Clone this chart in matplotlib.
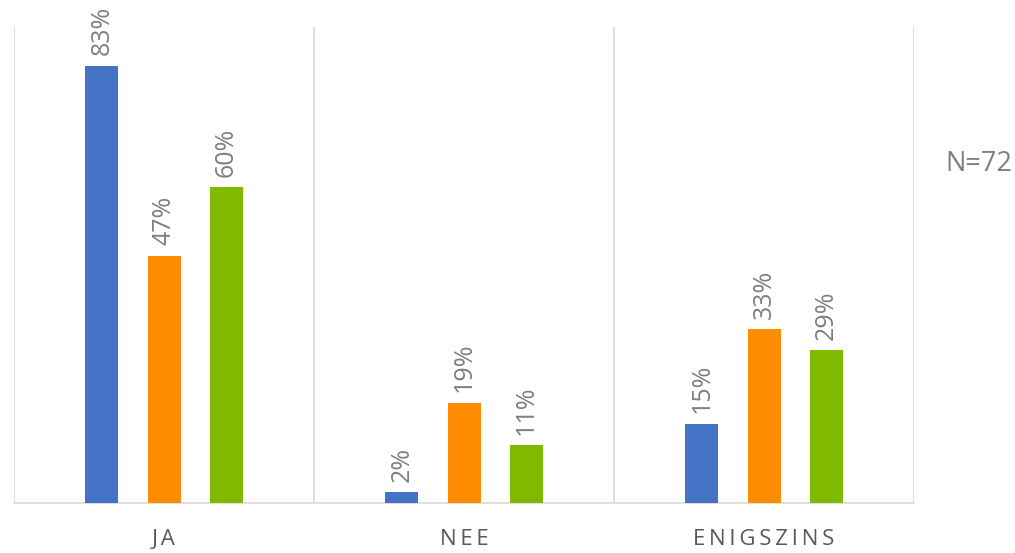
import numpy as np
import matplotlib
matplotlib.use("Agg")
import matplotlib.pyplot as plt

# categories and series values (percent)
categories = ["JA", "NEE", "ENIGSZINS"]
series_a = [83, 2, 15]
series_b = [47, 19, 33]
series_c = [60, 11, 29]
colors = ["#4472C4", "#FF8C00", "#7FBA00"]

plt.rcParams["font.family"] = ["Open Sans", "DejaVu Sans"]

fig = plt.figure(figsize=(10.15, 5.53), dpi=100)
ax = fig.add_axes([14 / 1015, 50 / 553, 900 / 1015, 476 / 553])

x = np.arange(len(categories))
width = 0.11
offset = 0.207
for i, (vals, col) in enumerate(zip([series_a, series_b, series_c], colors)):
    pos = x + (i - 1) * offset
    ax.bar(pos, vals, width=width, color=col, zorder=3)
    for p, v in zip(pos, vals):
        ax.text(p, v + 2, f"{v}%", rotation=90, ha="center", va="bottom",
                fontsize=18, color="#7f7f7f")

ax.set_xlim(-0.5, len(categories) - 0.5)
ax.set_ylim(0, 90.4)

# separator lines between categories
for b in np.arange(-0.5, len(categories), 1.0):
    ax.axvline(b, color="#d9d9d9", lw=1.2, zorder=1)

for s in ["top", "left", "right"]:
    ax.spines[s].set_visible(False)
ax.spines["bottom"].set_color("#d9d9d9")
ax.spines["bottom"].set_linewidth(1.2)

ax.set_yticks([])
ax.set_xticks(x)
ax.set_xticklabels(["\u2009".join(c) for c in categories], fontsize=16,
                   color="#595959")
ax.tick_params(axis="x", length=0, pad=19)

fig.text(979 / 1015, 1 - 164 / 553, "N=72", ha="center", va="center",
         fontsize=19.5, color="#7f7f7f")

fig.savefig("out.png", dpi=100)
